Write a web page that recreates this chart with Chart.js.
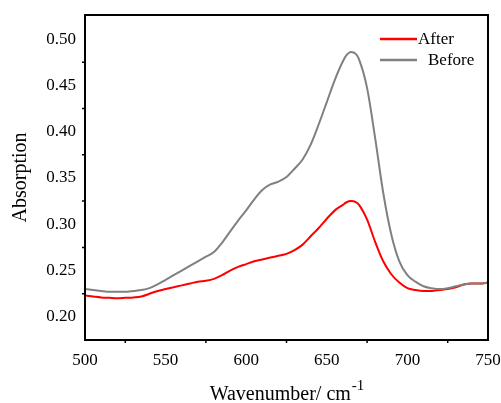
<!DOCTYPE html>
<html>
<head>
<meta charset="utf-8">
<script src="https://cdn.jsdelivr.net/npm/chart.js@4/dist/chart.umd.min.js"></script>
<style>
  html, body { margin: 0; padding: 0; background: #fff; }
  #wrap { width: 501px; height: 403px; }
</style>
</head>
<body>
<div id="wrap"><canvas id="chart"></canvas></div>
<script>
(function () {
    "use strict";

    // data
    const wavenumber = [500, 505, 510, 515, 520, 525, 530, 535, 540, 545,
        550, 555, 560, 565, 570, 575, 580, 585, 590, 595,
        600, 605, 610, 615, 620, 625, 630, 635, 640, 645,
        650, 655, 660, 662, 665, 668, 670, 675, 680, 685, 690, 695,
        700, 705, 710, 715, 720, 725, 730, 735, 740, 745, 750];
    const afterValues = [0.223, 0.222, 0.221, 0.2205, 0.220, 0.2205, 0.221, 0.222, 0.225, 0.228,
        0.230, 0.232, 0.234, 0.236, 0.238, 0.239, 0.241, 0.245, 0.250, 0.254,
        0.257, 0.260, 0.262, 0.264, 0.266, 0.268, 0.272, 0.278, 0.287, 0.296,
        0.306, 0.315, 0.321, 0.3235, 0.325, 0.324, 0.321, 0.305, 0.281, 0.260, 0.246, 0.237,
        0.231, 0.229, 0.228, 0.228, 0.229, 0.230, 0.232, 0.235, 0.236, 0.236, 0.237];
    const beforeValues = [0.230, 0.229, 0.228, 0.227, 0.227, 0.227, 0.228, 0.229, 0.231, 0.235,
        0.240, 0.245, 0.250, 0.255, 0.260, 0.265, 0.270, 0.280, 0.292, 0.304,
        0.315, 0.327, 0.337, 0.343, 0.346, 0.351, 0.360, 0.370, 0.386, 0.408,
        0.432, 0.456, 0.476, 0.482, 0.486, 0.484, 0.478, 0.447, 0.393, 0.334, 0.289, 0.260,
        0.245, 0.238, 0.233, 0.231, 0.230, 0.231, 0.233, 0.235, 0.236, 0.236, 0.237];
    const xTicks = [500, 550, 600, 650, 700, 750];
    const xMinorTicks = [525, 575, 625, 675, 725];
    const yTicks = [0.20, 0.25, 0.30, 0.35, 0.40, 0.45, 0.50];
    const yMinorTicks = [0.225, 0.275, 0.325, 0.375, 0.425, 0.475];

    const serif = "'Liberation Serif', 'Times New Roman', serif";

    function points(ys) {
        return wavenumber.map(function (x, i) { return { x: x, y: ys[i] }; });
    }

    // frame, minor ticks, x title with superscript, legend
    const decor = {
        id: "decor",
        afterDraw: function (chart) {
            const ctx = chart.ctx;
            const a = chart.chartArea;
            const xs = chart.scales.x;
            const ys = chart.scales.y;
            ctx.save();
            ctx.strokeStyle = "#000";
            ctx.lineWidth = 2;
            ctx.strokeRect(a.left, a.top, a.right - a.left, a.bottom - a.top);

            ctx.lineWidth = 1.5;
            ctx.beginPath();
            xMinorTicks.forEach(function (v) {
                const px = xs.getPixelForValue(v);
                ctx.moveTo(px, a.bottom);
                ctx.lineTo(px, a.bottom + 3);
            });
            yMinorTicks.forEach(function (v) {
                const py = ys.getPixelForValue(v);
                ctx.moveTo(a.left, py);
                ctx.lineTo(a.left - 3, py);
            });
            ctx.stroke();

            // x axis title
            ctx.fillStyle = "#000";
            ctx.textBaseline = "alphabetic";
            const main = "Wavenumber/ cm";
            ctx.font = "15px " + serif;
            const supW = ctx.measureText("-1").width;
            ctx.font = "20px " + serif;
            const mainW = ctx.measureText(main).width;
            const cx = (a.left + a.right) / 2;
            const x0 = cx - (mainW + supW) / 2;
            ctx.textAlign = "left";
            ctx.fillText(main, x0, 400);
            ctx.font = "15px " + serif;
            ctx.fillText("-1", x0 + mainW + 1, 390);

            // legend
            ctx.font = "17px " + serif;
            const rows = [{ y: 39, tx: 418 }, { y: 60, tx: 428 }];
            chart.data.datasets.forEach(function (ds, i) {
                const r = rows[i];
                ctx.strokeStyle = ds.borderColor;
                ctx.lineWidth = 2.5;
                ctx.beginPath();
                ctx.moveTo(380, r.y);
                ctx.lineTo(417, r.y);
                ctx.stroke();
                ctx.fillStyle = "#000";
                ctx.textBaseline = "middle";
                ctx.fillText(ds.label, r.tx, r.y + 1);
            });
            ctx.restore();
        }
    };

    new Chart(document.getElementById("chart"), {
        type: "line",
        data: {
            datasets: [
                {
                    label: "After",
                    data: points(afterValues),
                    borderColor: "#ff0000",
                    borderWidth: 2,
                    pointRadius: 0,
                    cubicInterpolationMode: "monotone",
                    order: 1,
                },
                {
                    label: "Before",
                    data: points(beforeValues),
                    borderColor: "#808080",
                    borderWidth: 2,
                    pointRadius: 0,
                    cubicInterpolationMode: "monotone",
                    order: 0,
                },
            ],
        },
        options: {
            responsive: true,
            maintainAspectRatio: false,
            animation: false,
            layout: { padding: { top: 15, right: 13, left: 0, bottom: 0 } },
            plugins: {
                legend: { display: false },
                tooltip: { enabled: false },
            },
            scales: {
                x: {
                    type: "linear",
                    min: 500,
                    max: 750,
                    afterBuildTicks: function (scale) {
                        scale.ticks = xTicks.map(function (v) { return { value: v }; });
                    },
                    afterFit: function (scale) {
                        scale.height = 63;
                        scale.paddingRight = 0;
                        scale.paddingLeft = 0;
                    },
                    grid: { display: false, drawTicks: true, tickLength: 5, tickColor: "#000", tickWidth: 1.5 },
                    border: { display: false },
                    ticks: {
                        color: "#000",
                        font: { family: serif, size: 17 },
                        maxRotation: 0,
                        padding: 5,
                        callback: function (v) { return v; },
                    },
                },
                y: {
                    min: 0.175,
                    max: 0.526,
                    afterBuildTicks: function (scale) {
                        scale.ticks = yTicks.map(function (v) { return { value: v }; });
                    },
                    afterFit: function (scale) {
                        scale.width = 85;
                        scale.paddingTop = 0;
                        scale.paddingBottom = 0;
                    },
                    grid: { display: false, drawTicks: true, tickLength: 5, tickColor: "#000", tickWidth: 1.5 },
                    border: { display: false },
                    title: {
                        display: true,
                        text: "Absorption",
                        color: "#000",
                        font: { family: serif, size: 20 },
                        padding: { top: 9, bottom: 0 },
                    },
                    ticks: {
                        color: "#000",
                        font: { family: serif, size: 17 },
                        padding: 4,
                        callback: function (v) { return v.toFixed(2); },
                    },
                },
            },
        },
        plugins: [decor],
    });
})();
</script>
</body>
</html>
